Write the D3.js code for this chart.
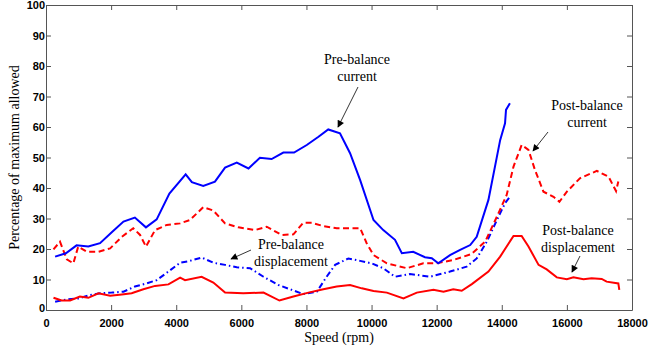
<!DOCTYPE html>
<html><head><meta charset="utf-8">
<script src="https://cdn.jsdelivr.net/npm/d3@7"></script>
<style>html,body{margin:0;padding:0;background:#fff;}svg{display:block;}</style>
</head><body>
<svg id="chart" width="649" height="349"></svg>
<script>
// ---- data ----
const xTicks = [0,2000,4000,6000,8000,10000,12000,14000,16000,18000];
const yTicks = [0,10,20,30,40,50,60,70,80,90,100];

const preCurSpeed = [280,610,940,1300,1660,2020,2380,2730,3070,3400,3790,4290,4480,4830,5190,5500,5860,6220,6570,6930,7290,7620,8010,8370,8670,9030,9340,9650,10060,10360,10720,10930,11280,11640,11850,12050,12410,12720,13030,13230,13590,13950,14100,14130,14250];
const preCurVal   = [17.5,18.6,21.2,20.8,21.9,25.5,29,30.3,27.1,29.7,38.2,44.5,41.9,40.7,42.1,46.7,48.3,46.4,49.9,49.5,51.6,51.6,54.1,56.8,59.2,57.9,51.4,42.6,29.5,26.2,23,18.6,19.1,17.3,17.0,15.3,18,19.7,21.3,24,36.1,55.7,61.2,65.6,67.8];

const preDispSpeed = [280,640,990,1350,1660,2020,2380,2730,3090,3400,3760,4120,4420,4780,5140,5500,5860,6270,6680,7140,7550,7900,8320,8620,8880,9290,9650,10000,10360,10720,11180,11800,12410,12920,13230,13540,13850,14100,14250];
const preDispVal   = [2.7,3.5,3.8,4.9,5.5,5.7,6.0,7.7,8.7,9.8,12.6,15.5,16.1,17.2,15.5,14.8,14.0,13.7,10.9,8.2,6.6,5.2,6.0,10.9,14.8,16.9,16.1,15.3,13.7,10.9,11.8,10.9,12.6,14.2,16.9,22.4,29.5,35,37.1];

const postCurSpeed = [230,430,640,840,990,1250,1610,1970,2330,2680,2890,3070,3350,3710,4120,4420,4830,5140,5500,5910,6420,6780,7240,7600,7900,8160,8520,8930,9340,9650,9850,10060,10470,11080,11590,12000,12510,13060,13490,13850,14150,14360,14610,14820,15020,15280,15590,15770,16000,16400,16920,17280,17510,17580];
const postCurVal   = [19.9,22.4,16.6,15.3,20.8,19.1,19.1,20.2,24,26.8,24.6,20.8,26.2,27.9,28.4,29.5,33.7,32.6,28.4,27.1,26.2,27.3,24.6,24.8,28.6,28.6,27.5,26.8,26.8,26.8,21.9,18,15.3,13.7,15.3,15.3,16.4,18.3,22.4,30.6,37.7,47,54.1,52.5,45.9,38.8,37.1,35.5,38.8,43.2,45.6,43.7,39,42.1];

const postDispSpeed = [230,480,740,1040,1300,1610,1970,2330,2630,2990,3350,3760,4120,4270,4780,5140,5500,6060,6680,7170,7600,8060,8520,8930,9340,9700,10060,10470,10980,11390,11900,12210,12510,12770,13080,13590,13950,14150,14360,14610,14820,15130,15380,15690,16000,16200,16510,16760,17070,17220,17580,17610];
const postDispVal   = [4.0,3.1,3.1,4.4,4.0,5.5,4.7,5.1,5.5,6.8,7.9,8.4,10.6,9.8,10.9,9.0,5.7,5.5,5.7,3.1,4.4,5.7,6.8,7.7,8.2,7.1,6.2,5.7,3.8,5.7,6.6,6.0,6.8,6.3,8.5,12.6,17.5,20.8,24.3,24.3,20.8,14.8,13.3,10.7,10.1,10.7,10.1,10.4,10.2,9.3,8.7,6.6];

const annotations = [
  {lines:["Pre-balance","current"], tx:357, ty:[64,81], from:[358,87], to:[338,127]},
  {lines:["Post-balance","current"], tx:587, ty:[110,127], from:[548,132], to:[533,151]},
  {lines:["Pre-balance","displacement"], tx:291, ty:[249,266], from:[251,250], to:[231,259]},
  {lines:["Post-balance","displacement"], tx:578, ty:[235,252], from:[580,256], to:[572,272]}
];

// ---- layout ----
const W = 649, H = 349;
const m = {left:46, right:17, top:5, bottom:39};
const svg = d3.select("#chart");
const x = d3.scaleLinear().domain([0,18000]).range([m.left, W - m.right]);
const y = d3.scaleLinear().domain([0,100]).range([H - m.bottom, m.top]);
const axisColor = "#555";
const tickFont = "'Liberation Sans', Arial, sans-serif";
const serif = "'Liberation Serif', 'Times New Roman', serif";

// axes (ticks inside)
const gx = svg.append("g").attr("transform", `translate(0,${y(0)})`)
  .call(d3.axisBottom(x).tickValues(xTicks).tickSizeInner(-5).tickSizeOuter(0).tickPadding(9).tickFormat(d3.format("d")));
const gxTop = svg.append("g").attr("transform", `translate(0,${y(100)})`)
  .call(d3.axisTop(x).tickValues(xTicks).tickSizeInner(-5).tickSizeOuter(0).tickFormat(""));
const gy = svg.append("g").attr("transform", `translate(${x(0)},0)`)
  .call(d3.axisLeft(y).tickValues(yTicks).tickSizeInner(-5).tickSizeOuter(0).tickPadding(1).tickFormat(d3.format("d")));
const gyR = svg.append("g").attr("transform", `translate(${x(18000)},0)`)
  .call(d3.axisRight(y).tickValues(yTicks).tickSizeInner(-5).tickSizeOuter(0).tickFormat(""));
[gx,gxTop,gy,gyR].forEach(g=>{
  g.select(".domain").attr("stroke", axisColor).attr("stroke-width",1);
  g.selectAll(".tick line").attr("stroke", axisColor);
  g.selectAll("text").attr("font-family", tickFont).attr("font-weight","bold").attr("font-size", 11).attr("fill","#000");
});
gy.selectAll(".tick text").attr("dy","0.35em");
// y label 0 slightly raised like matlab
gy.selectAll(".tick").filter(d=>d===0).select("text").attr("dy","0.1em");

// lines
const line = (xs, ys) => d3.line().x((d,i)=>x(xs[i])).y((d,i)=>y(ys[i]))(xs);
const plot = svg.append("g");
plot.append("path").attr("d", line(preDispSpeed, preDispVal)).attr("fill","none")
  .attr("stroke","#0000ff").attr("stroke-width",2).attr("stroke-dasharray","6,3,1.5,3");
plot.append("path").attr("d", line(postDispSpeed, postDispVal)).attr("fill","none")
  .attr("stroke","#ff0000").attr("stroke-width",2);
plot.append("path").attr("d", line(postCurSpeed, postCurVal)).attr("fill","none")
  .attr("stroke","#ff0000").attr("stroke-width",2).attr("stroke-dasharray","6,3.5");
plot.append("path").attr("d", line(preCurSpeed, preCurVal)).attr("fill","none")
  .attr("stroke","#0000ff").attr("stroke-width",2);

// axis titles
svg.append("text").attr("x", (x(0)+x(18000))/2).attr("y", 342).attr("text-anchor","middle")
  .attr("font-family", serif).attr("font-size",14).text("Speed (rpm)");
svg.append("text").attr("transform", `translate(19,${(y(0)+y(100))/2}) rotate(-90)`).attr("text-anchor","middle")
  .attr("font-family", serif).attr("font-size",14).text("Percentage of maximum allowed");

// annotations
const defs = svg.append("defs");
defs.append("marker").attr("id","ah").attr("viewBox","0 0 10 10").attr("refX",9).attr("refY",5)
  .attr("markerWidth",9).attr("markerHeight",7).attr("orient","auto").attr("markerUnits","userSpaceOnUse")
  .append("path").attr("d","M0,0 L10,5 L0,10 z").attr("fill","#000");
annotations.forEach(a=>{
  a.lines.forEach((t,i)=>{
    svg.append("text").attr("x",a.tx).attr("y",a.ty[i]).attr("text-anchor","middle")
      .attr("font-family", serif).attr("font-size",14).attr("fill","#000").text(t);
  });
  svg.append("line").attr("x1",a.from[0]).attr("y1",a.from[1]).attr("x2",a.to[0]).attr("y2",a.to[1])
    .attr("stroke","#000").attr("stroke-width",0.8).attr("marker-end","url(#ah)");
});
</script>
</body></html>
